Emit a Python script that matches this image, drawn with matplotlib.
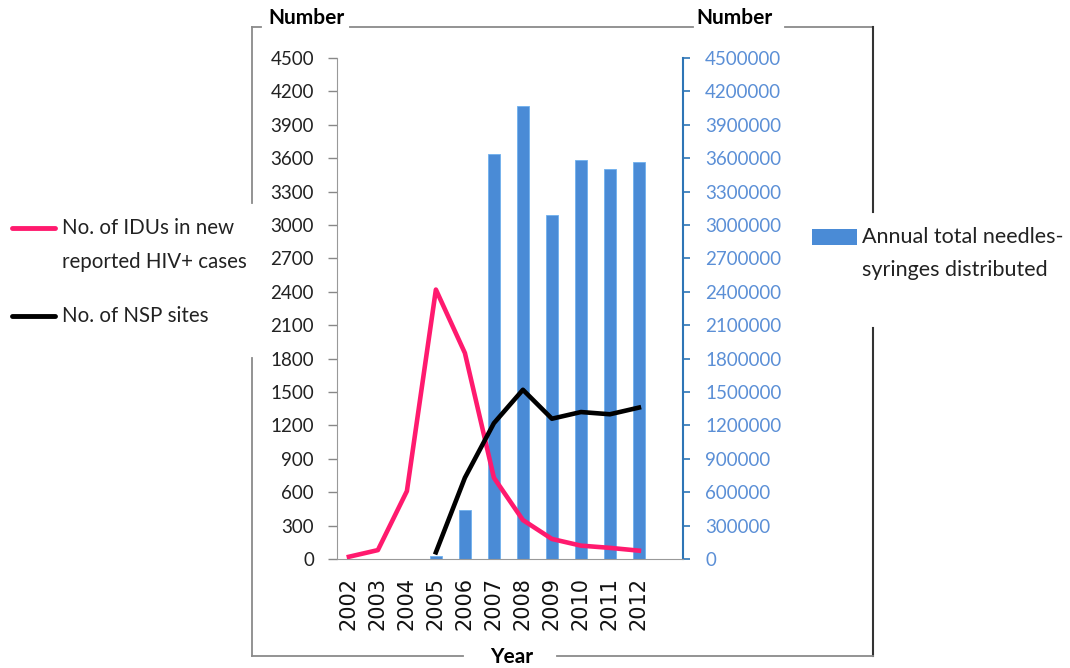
import matplotlib
matplotlib.use("Agg")
import matplotlib.pyplot as plt
from matplotlib.lines import Line2D
from matplotlib.patches import Rectangle
import numpy as np

years = ["2002", "2003", "2004", "2005", "2006", "2007", "2008", "2009", "2010", "2011", "2012"]
idu_hiv = [20, 80, 610, 2420, 1850, 730, 350, 180, 120, 100, 75]
nsp_sites = [np.nan, np.nan, np.nan, 60, 730, 1220, 1520, 1260, 1320, 1300, 1360]
needles = [0, 0, 0, 30000, 440000, 3640000, 4070000, 3090000, 3585000, 3505000, 3565000]
left_ticks = list(range(0, 4501, 300))
right_ticks = list(range(0, 4500001, 300000))

W, H = 1070, 668
fig = plt.figure(figsize=(W / 100, H / 100), dpi=100)
FONT = "Lato"

def fx(px):
    return px / W

def fy(py):
    return 1 - py / H

ax = fig.add_axes([fx(337), fy(559), fx(683) - fx(337), fy(58) - fy(559)])
ax2 = ax.twinx()
ax.set_zorder(ax2.get_zorder() + 1)
ax.patch.set_visible(False)

x = np.arange(len(years))
ax2.bar(x, needles, width=0.44, color="#4a8bd6", edgecolor="#6fb0ee", linewidth=0.6, zorder=2)
ax.plot(x, idu_hiv, color="#ff1a6e", lw=3.3, zorder=3)
ax.plot(x, nsp_sites, color="#000000", lw=3.3, zorder=4)

xl = (-0.41, 11.52)
ax.set_xlim(*xl)
ax2.set_xlim(*xl)
ax.set_ylim(0, 4500)
ax2.set_ylim(0, 4500000)

ax.set_yticks(left_ticks)
ax.set_yticklabels([str(v) for v in left_ticks], fontsize=13.5, family=FONT, color="#222222")
ax2.set_yticks(right_ticks)
ax2.set_yticklabels([str(v) for v in right_ticks], fontsize=13.5, family=FONT, color="#5b8fd6")

ax.set_xticks(x)
ax.set_xticklabels(years, rotation=90, fontsize=15, family="DejaVu Sans", color="#111111")
ax.tick_params(axis="x", length=0, pad=13)
ax.tick_params(axis="y", length=6.5, width=1, color="#888888", pad=10, direction="out")
ax2.tick_params(axis="y", length=5, width=1.2, color="#2e75b6", pad=11, direction="out")

for a in (ax, ax2):
    a.spines["top"].set_visible(False)
ax.spines["right"].set_visible(False)
ax.spines["left"].set_color("#999999")
ax.spines["bottom"].set_color("#999999")
ax2.spines["left"].set_visible(False)
ax2.spines["bottom"].set_visible(False)
ax2.spines["right"].set_color("#2e75b6")
ax2.spines["right"].set_linewidth(1.5)

# outer frame segments
def seg(x0, y0, x1, y1, color="#8a8a8a", lw=1.3):
    fig.add_artist(Line2D([fx(x0), fx(x1)], [fy(y0), fy(y1)], transform=fig.transFigure,
                          color=color, lw=lw))

seg(252, 27, 261, 27)
seg(350, 27, 693, 27)
seg(785, 27, 873, 27)
seg(252, 27, 252, 203)
seg(252, 358, 252, 656)
seg(873, 27, 873, 212, color="#333333", lw=1.5)
seg(873, 328, 873, 656, color="#333333", lw=1.5)
seg(252, 656, 463, 656)
seg(557, 656, 873, 656)

# titles
fig.text(fx(306), fy(18), "Number", ha="center", va="center", fontsize=15, fontweight="bold", family=FONT)
fig.text(fx(735), fy(18), "Number", ha="center", va="center", fontsize=15, fontweight="bold", family=FONT)
fig.text(fx(512), fy(657), "Year", ha="center", va="center", fontsize=15, fontweight="bold", family=FONT)

# left legend
fig.add_artist(Line2D([fx(12), fx(55)], [fy(228), fy(228)], transform=fig.transFigure,
                      color="#ff1a6e", lw=3.5, solid_capstyle="round"))
fig.text(fx(62), fy(228), "No. of IDUs in new", ha="left", va="center", fontsize=14.8, family=FONT, color="#222222")
fig.text(fx(62), fy(262), "reported HIV+ cases", ha="left", va="center", fontsize=14.8, family=FONT, color="#222222")
fig.add_artist(Line2D([fx(12), fx(55)], [fy(316), fy(316)], transform=fig.transFigure,
                      color="#000000", lw=3.5, solid_capstyle="round"))
fig.text(fx(62), fy(316), "No. of NSP sites", ha="left", va="center", fontsize=14.8, family=FONT, color="#222222")

# right legend
fig.add_artist(Rectangle((fx(812), fy(245)), fx(857) - fx(812), fy(229) - fy(245),
                         transform=fig.transFigure, facecolor="#4a8bd6", edgecolor="none"))
fig.text(fx(862), fy(237), "Annual total needles-", ha="left", va="center", fontsize=15.5, family=FONT, color="#222222")
fig.text(fx(862), fy(270), "syringes distributed", ha="left", va="center", fontsize=15.5, family=FONT, color="#222222")

fig.savefig("out.png", dpi=100)
